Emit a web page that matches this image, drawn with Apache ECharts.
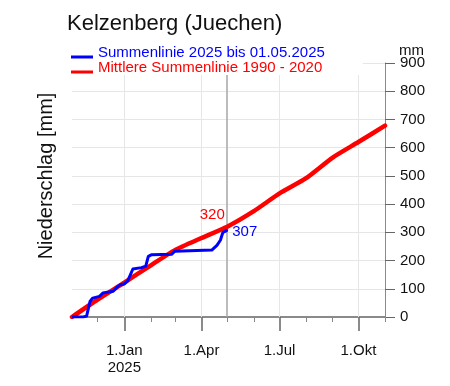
<!DOCTYPE html>
<html>
<head>
<meta charset="utf-8">
<script src="https://cdn.jsdelivr.net/npm/echarts@6/dist/echarts.min.js"></script>
<style>html,body{margin:0;padding:0;background:#fff}#c{width:450px;height:386px}</style>
</head>
<body>
<div id="c"></div>
<script>
// ---- data ----
const titleText = 'Kelzenberg (Juechen)';
const yAxisTitle = 'Niederschlag [mm]';
const unitText = 'mm';
const seriesNames = ['Summenlinie 2025 bis 01.05.2025', 'Mittlere Summenlinie 1990 - 2020'];

const blueDates = ['2024-11-01','2024-11-14','2024-11-18','2024-11-22','2024-11-25','2024-12-03','2024-12-07','2024-12-09',
  '2024-12-19','2024-12-23','2024-12-27','2025-01-01','2025-01-05','2025-01-11','2025-01-21','2025-01-26','2025-01-29',
  '2025-02-02','2025-02-25','2025-03-01','2025-04-13','2025-04-19','2025-04-23','2025-04-26','2025-04-27','2025-05-01'];
const blueValues = [0, 0, 3, 55, 67, 73, 85, 90,
  91, 104, 114, 117, 128, 170, 175, 180, 215,
  221, 222, 233, 237, 254, 272, 300, 307, 307];

const redDates = ['2024-11-01','2024-12-01','2025-01-01','2025-02-01','2025-03-01','2025-04-01','2025-05-01',
  '2025-06-01','2025-07-01','2025-08-01','2025-09-01','2025-10-01','2025-11-01'];
const redValues = [0, 62, 122, 183, 237, 280, 320, 375, 438, 492, 565, 620, 678];

const xRange = ['2024-11-01', '2025-11-01'];
const xLabelDates = ['2025-01-01', '2025-04-01', '2025-07-01', '2025-10-01'];
const xMinorTickDates = ['2024-12-01','2025-01-01','2025-02-01','2025-03-01','2025-04-01','2025-05-01','2025-06-01',
  '2025-07-01','2025-08-01','2025-09-01','2025-10-01','2025-11-01'];
const monthNames = ['Jan','Feb','Mrz','Apr','Mai','Jun','Jul','Aug','Sep','Okt','Nov','Dez'];
const yTickValues = [0, 100, 200, 300, 400, 500, 600, 700, 800, 900];
const cutoffDate = '2025-05-01';

// ---- helpers ----
function ts(s) { const p = s.split('-'); return new Date(+p[0], +p[1] - 1, +p[2]).getTime(); }
const FONT = '"Liberation Sans", Arial, Helvetica, sans-serif';
const BLUE = '#0000ff', RED = '#ff0000';

const redData = redDates.map((d, i) => {
  if (d === cutoffDate) {
    return { value: [ts(d), redValues[i]], symbol: 'circle', symbolSize: 2,
      label: { show: true, position: 'top', distance: 3, offset: [-15, 0], color: RED, fontSize: 15, fontFamily: FONT,
        formatter: p => String(p.value[1]) } };
  }
  return [ts(d), redValues[i]];
});
const blueData = blueDates.map((d, i) => {
  if (i === blueDates.length - 1) {
    return { value: [ts(d), blueValues[i]], symbol: 'circle', symbolSize: 2,
      label: { show: true, position: 'right', distance: 4, offset: [0, 2], color: BLUE, fontSize: 15, fontFamily: FONT,
        formatter: p => String(p.value[1]) } };
  }
  return [ts(d), blueValues[i]];
});

const chart = echarts.init(document.getElementById('c'), null, { renderer: 'canvas' });
chart.setOption({
  animation: false,
  backgroundColor: '#fff',
  textStyle: { fontFamily: FONT },
  title: {
    text: titleText, left: 67, top: 13, padding: 0,
    textStyle: { fontSize: 22, fontWeight: 'normal', color: '#111', fontFamily: FONT }
  },
  legend: {
    orient: 'vertical', left: 65, top: 40, padding: [5, 38, 0, 6],
    backgroundColor: '#fff', itemGap: 0, itemWidth: 22, itemHeight: 14,
    icon: 'path://M0,0M0,14M0,10L22,10L22,13L0,13Z',
    itemStyle: { borderWidth: 0 },
    selectedMode: false,
    textStyle: { fontSize: 15, lineHeight: 14, fontFamily: FONT },
    data: [
      { name: seriesNames[0], textStyle: { color: BLUE } },
      { name: seriesNames[1], textStyle: { color: RED } }
    ]
  },
  grid: { left: 72, right: 65, top: 63, bottom: 69, containLabel: false },
  xAxis: [
    {
      type: 'value', position: 'bottom', min: ts(xRange[0]), max: ts(xRange[1]), scale: true,
      axisLine: { show: true, onZero: false, lineStyle: { color: '#8a8a8a', width: 2 } },
      axisTick: { show: true, length: 14, customValues: xLabelDates.map(ts), lineStyle: { color: '#666', width: 1.5 } },
      axisLabel: {
        show: true, customValues: xLabelDates.map(ts), margin: 25, fontSize: 15, lineHeight: 17.5,
        color: '#111', fontFamily: FONT, hideOverlap: false,
        formatter: function (v) {
          const d = new Date(v);
          let s = d.getDate() + '.' + monthNames[d.getMonth()];
          if (d.getMonth() === 0) s += '\n' + d.getFullYear();
          return s;
        }
      },
      splitLine: { show: false }
    },
    {
      type: 'value', position: 'bottom', min: ts(xRange[0]), max: ts(xRange[1]), scale: true,
      axisLine: { show: true, onZero: false, lineStyle: { color: '#8a8a8a', width: 2 } },
      axisTick: { show: true, length: 5, customValues: xMinorTickDates.map(ts), lineStyle: { color: '#888', width: 1 } },
      axisLabel: { show: false },
      splitLine: { show: false }
    }
  ],
  yAxis: {
    type: 'value', position: 'right', min: 0, max: 900, interval: 100,
    axisLine: { show: true, onZero: false, lineStyle: { color: '#8a8a8a', width: 1 } },
    axisTick: { show: true, length: 10, customValues: yTickValues, lineStyle: { color: '#666', width: 1 } },
    axisLabel: { show: true, customValues: yTickValues, margin: 15, fontSize: 15, color: '#111', fontFamily: FONT },
    splitLine: { show: true, lineStyle: { color: '#e6e6e6', width: 1 } }
  },
  graphic: [
    { type: 'text', x: 46.5, y: 176, rotation: Math.PI / 2,
      style: { text: yAxisTitle, fontSize: 20, fontFamily: FONT, fill: '#111', align: 'center', verticalAlign: 'middle' } },
    { type: 'text', x: 411.5, y: 50.4,
      style: { text: unitText, fontSize: 15, fontFamily: FONT, fill: '#111', align: 'center', verticalAlign: 'middle' } }
  ],
  series: [
    {
      name: seriesNames[1], type: 'line', xAxisIndex: 0, yAxisIndex: 0, z: 2,
      symbol: 'none', showSymbol: true, silent: true, smooth: 0.2,
      lineStyle: { color: RED, width: 4.5, cap: 'round', join: 'round' },
      itemStyle: { color: RED },
      emphasis: { disabled: true },
      data: redData,
      markLine: {
        silent: true, z: 1, symbol: ['none', 'none'], label: { show: false },
        emphasis: { disabled: true },
        data: xLabelDates.map(d => ({ xAxis: ts(d), lineStyle: { color: '#e6e6e6', width: 1, type: 'solid' } }))
          .concat([{ xAxis: ts(cutoffDate), lineStyle: { color: '#a6a6a6', width: 1.5, type: 'solid' } }])
      }
    },
    {
      name: seriesNames[0], type: 'line', xAxisIndex: 0, yAxisIndex: 0, z: 3,
      symbol: 'none', showSymbol: true, silent: true,
      lineStyle: { color: BLUE, width: 3, join: 'round' },
      itemStyle: { color: BLUE },
      emphasis: { disabled: true },
      data: blueData
    }
  ]
});
</script>
</body>
</html>
